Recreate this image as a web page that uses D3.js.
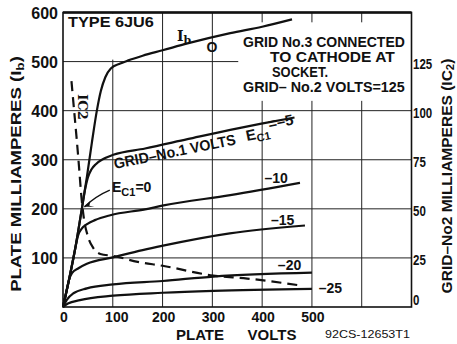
<!DOCTYPE html>
<html lang="en">
<head>
    <meta charset="UTF-8">
    <title>Type 6JU6 plate characteristics</title>
    <script src="https://d3js.org/d3.v7.min.js"></script>
    <style>
        body { margin: 0; background: white; }
        text {
            font-family: 'Liberation Sans', Arial, sans-serif;
            font-weight: bold;
            fill: #111;
        }
        .grid { stroke: #222; stroke-width: 1; }
        .curve { fill: none; stroke: #111; stroke-width: 2.2; stroke-linejoin: round; }
    </style>
</head>
<body>
<script>
    const width = 457;
    const height = 344;

    // plate volts, plate mA (left axis)
    const ecZero    = [[0,0],[12,55],[24,116],[38,201],[48,265],[58,335],[68,400],[76,440],[85,468],[96,486],[115,496],[130,502],[160,512],[200,523],[250,537],[336,558],[400,571],[460,586]];
    const ecMinus5  = [[0,0],[12,55],[24,116],[38,201],[45,243],[50,264],[57,280],[66,291],[80,301],[101,310],[165,323],[250,342],[336,361],[396,373],[465,386]];
    const ecMinus10 = [[0,0],[12,55],[24,116],[30,145],[38,160],[50,170],[64,177],[95,187],[165,199],[202,207],[336,228],[476,253]];
    const ecMinus15 = [[0,0],[6,28],[12,55],[18,69],[31,79],[48,88],[100,101],[160,116],[201,125],[335,150],[486,166]];
    const ecMinus20 = [[0,0],[8,15],[21,28],[48,38],[101,46],[200,53],[302,62],[500,70]];
    const ecMinus25 = [[0,0],[10,7],[34,14],[101,23],[200,29],[302,33],[500,37]];
    // plate volts, grid-No.2 mA (right axis)
    const screenCurrent = [[17,115],[22,101],[27,87],[32,72],[37,56],[42,45],[50,36],[61,30],[75,27],[101,26],[150,23],[200,21],[302,16],[370,14.5],[476,11]];

    const xTickValues = [0,100,200,300,400,500];
    const xGridValues = [100,200,300,400,500,600];
    const yTickValues = [100,200,300,400,500,600];
    const yGridValues = [100,200,300,400,500];
    const y2TickValues = [0,25,50,75,100,125];
    const curveNames = ['–10','–15','–20','–25'];

    const x = d3.scaleLinear().domain([0,700]).range([63,411.5]);
    const y = d3.scaleLinear().domain([0,600]).range([307,12.5]);
    const y2 = d3.scaleLinear().domain([0,150]).range([307,12.5]);

    const svg = d3.select("body").append("svg").attr("width",width).attr("height",height);

    // squeeze or stretch a text sideways to a given width, keeping its height
    function fit(sel, tx, ty, w, rot) {
        const len = sel.node().getComputedTextLength();
        sel.attr("transform", `translate(${tx},${ty})` + (rot ? ` rotate(${rot})` : '') + ` scale(${w / len},1)`);
        return sel;
    }

    // grid
    svg.selectAll(".vgrid").data(xGridValues).enter().append("line")
        .attr("class","grid")
        .attr("x1", d => x(d)).attr("x2", d => x(d))
        .attr("y1", y(0)).attr("y2", y(600));
    svg.selectAll(".hgrid").data(yGridValues).enter().append("line")
        .attr("class","grid")
        .attr("x1", x(0)).attr("x2", x(700))
        .attr("y1", d => y(d)).attr("y2", d => y(d));

    // white patches behind the notes
    svg.append("rect").attr("fill","white")
        .attr("x", x(0) + 1).attr("y", y(600) + 1)
        .attr("width", x(195) - x(0)).attr("height", y(506) - y(600));
    svg.append("rect").attr("fill","white")
        .attr("x", x(352)).attr("y", y(580))
        .attr("width", x(699) - x(352)).attr("height", y(420) - y(580));

    // frame
    svg.append("rect")
        .attr("x", x(0)).attr("y", y(600))
        .attr("width", x(700) - x(0)).attr("height", y(0) - y(600))
        .style("fill","none").style("stroke","#111").style("stroke-width",1.6);
    svg.append("line")
        .attr("x1", x(0)).attr("x2", x(700)).attr("y1", y(600)).attr("y2", y(600))
        .style("stroke","#111").style("stroke-width",2.4);

    // curves
    const line = d3.line().x(d => x(d[0])).y(d => y(d[1])).curve(d3.curveMonotoneX);
    const line2 = d3.line().x(d => x(d[0])).y(d => y2(d[1])).curve(d3.curveMonotoneX);

    [ecZero, ecMinus5, ecMinus10, ecMinus15, ecMinus20, ecMinus25].forEach(c => {
        svg.append("path").attr("class","curve").attr("d", line(c));
    });
    svg.append("path").attr("class","curve")
        .attr("d", line2(screenCurrent))
        .style("stroke-dasharray","10,6");

    // left axis
    svg.selectAll(".ylab").data(yTickValues).enter().append("text")
        .attr("x", 58).attr("y", d => y(d) + 1)
        .attr("text-anchor","end").attr("dominant-baseline","central")
        .style("font-size","16px")
        .text(d => d);
    // bottom axis
    svg.selectAll(".xlab").data(xTickValues).enter().append("text")
        .attr("x", d => x(d) + (d === 100 ? 4 : 1)).attr("y", 322)
        .attr("text-anchor","middle")
        .style("font-size","14px")
        .text(d => d);
    // right axis
    svg.selectAll(".y2lab").data(y2TickValues).enter().append("text")
        .attr("dominant-baseline","central")
        .style("font-size","15px")
        .text(d => d)
        .each(function(d) {
            fit(d3.select(this), 413, Math.min(y2(d) + 2, 300), String(d).length * 6.4);
        });

    // axis titles
    svg.append("text").attr("x", 200).attr("y", 340)
        .attr("text-anchor","middle").style("font-size","15px").text("PLATE");
    svg.append("text").attr("x", 272).attr("y", 340)
        .attr("text-anchor","middle").style("font-size","15px").text("VOLTS");
    fit(svg.append("text").style("font-size","10px").style("font-weight","normal")
        .text("92CS-12653T1"), 325, 338, 85);

    const leftTitle = svg.append("text")
        .attr("text-anchor","middle").style("font-size","15px");
    leftTitle.append("tspan").text("PLATE MILLIAMPERES (I");
    leftTitle.append("tspan").attr("dy", 3).style("font-size","11px").text("b");
    leftTitle.append("tspan").attr("dy", -3).text(")");
    fit(leftTitle, 21, 174, 236, -90);

    const rightTitle = svg.append("text")
        .attr("text-anchor","middle").style("font-size","15px");
    rightTitle.append("tspan").text("GRID–No2 MILLIAMPERES (IC");
    rightTitle.append("tspan").attr("dy", 2).style("font-size","11px").text("2");
    rightTitle.append("tspan").attr("dy", -2).text(")");
    fit(rightTitle, 452, 176, 235, -90);

    // notes
    fit(svg.append("text").style("font-size","15px").text("TYPE 6JU6"), 68, 27, 86);

    const notes = [
        {t: "GRID No.3 CONNECTED", x: 243, y: 47, w: 162},
        {t: "TO CATHODE AT", x: 270, y: 62, w: 125},
        {t: "SOCKET.", x: 272, y: 77, w: 56},
        {t: "GRID– No.2 VOLTS=125", x: 243, y: 92, w: 162}
    ];
    notes.forEach(n => {
        fit(svg.append("text").style("font-size","14px").text(n.t), n.x, n.y, n.w);
    });

    // Ib and 0 on top curve
    const ib = svg.append("text").attr("x", 177).attr("y", 41)
        .style("font-family","'DejaVu Serif', serif").style("font-size","14px");
    ib.append("tspan").text("I");
    ib.append("tspan").attr("dy", 3).style("font-size","11px").text("b");
    svg.append("text").attr("x", 212).attr("y", 52)
        .attr("text-anchor","middle").style("font-size","14px").text("O");

    // Ic2 along dashed curve
    svg.append("text")
        .attr("transform", `translate(78,107) rotate(90)`)
        .attr("text-anchor","middle").style("font-size","13px")
        .style("font-family","'DejaVu Serif', serif")
        .text("IC2");

    // GRID-No.1 VOLTS Ec1=-5
    fit(svg.append("text").style("font-size","15px").text("GRID–No.1 VOLTS"), 115, 169, 124, -11.5);
    const g1 = svg.append("text")
        .attr("transform", `translate(247,141) rotate(-11.5)`)
        .style("font-size","15px");
    g1.append("tspan").text("E");
    g1.append("tspan").attr("dy", 3).style("font-size","11px").text("C1");
    g1.append("tspan").attr("dy", -10).text("=–5");

    // Ec1=0 with arrow
    const e0 = svg.append("text").attr("x", 112).attr("y", 192).style("font-size","14px");
    e0.append("tspan").text("E");
    e0.append("tspan").attr("dy", 4).style("font-size","11px").text("C1");
    e0.append("tspan").attr("dy", -4).text("=0");
    svg.append("path")
        .attr("d", `M${x(94)},${y(238)} Q${x(66)},${y(226)} ${x(43)},${y(204)}`)
        .style("fill","none").style("stroke","#111").style("stroke-width",1.4);
    const tip = [x(43), y(204)];
    svg.append("path")
        .attr("d", `M${tip[0]},${tip[1]} l6,-6 l-1,5 l5,1 z`)
        .style("fill","#111");

    // curve labels
    const labelSpots = [[428,262],[441,177],[455,85],[537,39]];
    svg.selectAll(".clab").data(curveNames).enter().append("text")
        .attr("x", (d,i) => x(labelSpots[i][0])).attr("y", (d,i) => y(labelSpots[i][1]))
        .attr("text-anchor","middle").attr("dominant-baseline","central")
        .style("font-size","14px")
        .text(d => d);
</script>
</body>
</html>
